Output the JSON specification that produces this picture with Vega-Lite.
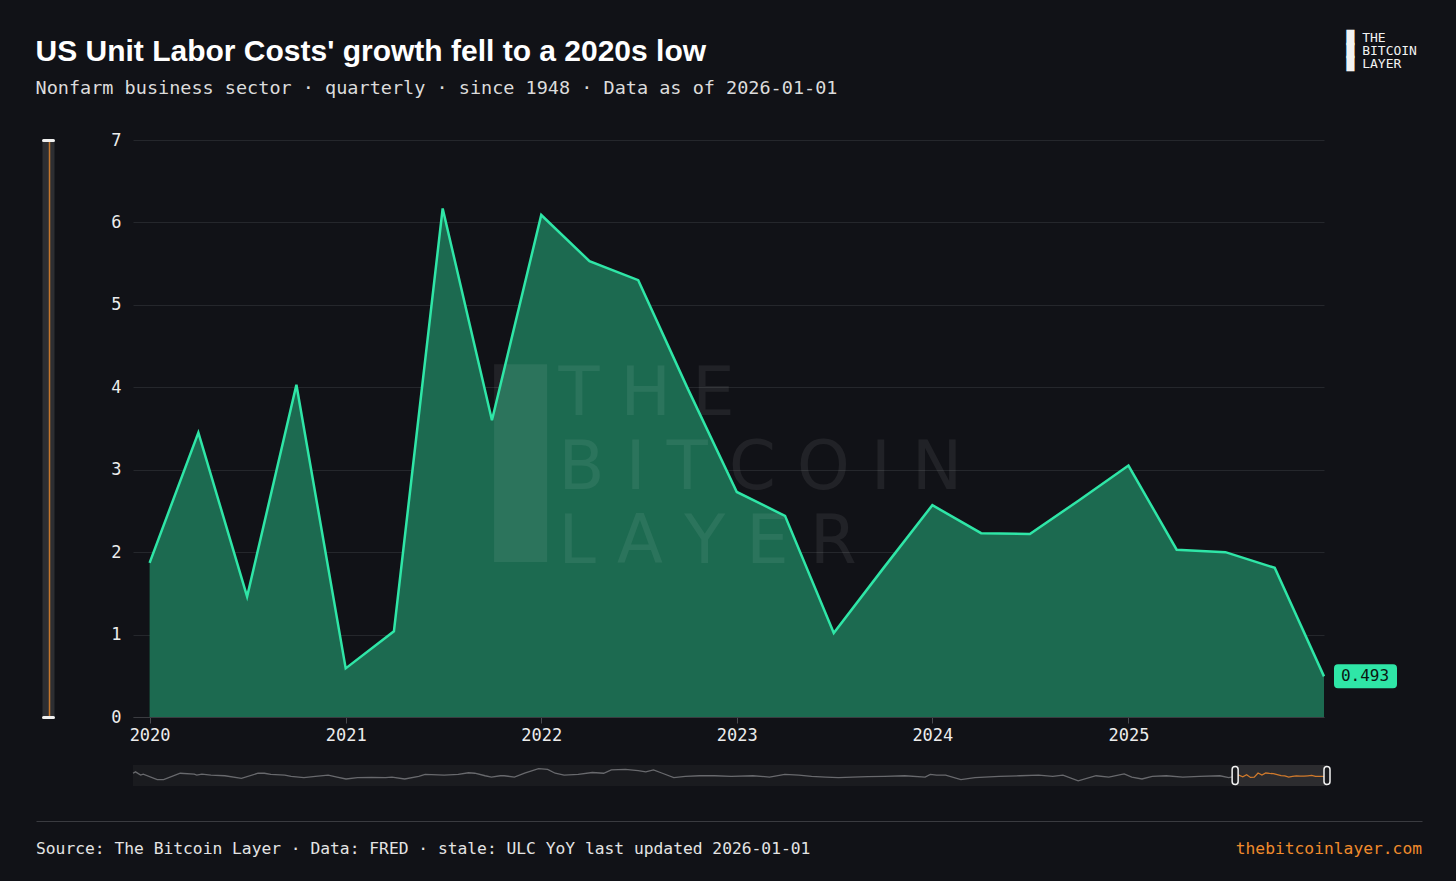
{
  "$schema": "https://vega.github.io/schema/vega-lite/v6.json",
  "background": "#111217",
  "padding": {"left": 35, "right": 35, "top": 31, "bottom": 4},
  "config": {"view": {"stroke": null}, "font": "DejaVu Sans Mono"},
  "title": {
    "text": ["█ THE", "█ BITCOIN", "█ LAYER"],
    "anchor": "start", "frame": "bounds", "align": "left", "dx": 1311, "offset": -34,
    "font": "DejaVu Sans Mono", "fontSize": 13, "fontWeight": "normal", "lineHeight": 13, "color": "#f2f2f2"
  },
  "datasets": {
    "ulc": [
      {"date": "1948-01-01", "value": 5.8}, {"date": "1948-03-01", "value": 7.5}, {"date": "1948-07-01", "value": 3.5},
      {"date": "1948-09-01", "value": 4.7}, {"date": "1949-08-01", "value": -2.0}, {"date": "1950-01-01", "value": -2.0},
      {"date": "1951-02-01", "value": 5.8}, {"date": "1952-01-01", "value": 4.7}, {"date": "1952-03-01", "value": 3.5},
      {"date": "1952-07-01", "value": 4.7}, {"date": "1953-02-01", "value": 3.5}, {"date": "1954-01-01", "value": 2.7},
      {"date": "1955-02-01", "value": -0.5}, {"date": "1956-03-01", "value": 5.8}, {"date": "1956-08-01", "value": 5.8},
      {"date": "1957-01-01", "value": 4.3}, {"date": "1957-12-01", "value": 3.5}, {"date": "1958-05-01", "value": 1.9},
      {"date": "1959-03-01", "value": 0.3}, {"date": "1959-12-01", "value": 1.9}, {"date": "1960-10-01", "value": 3.5},
      {"date": "1961-05-01", "value": 1.1}, {"date": "1961-12-01", "value": -1.3}, {"date": "1962-09-01", "value": 0.3},
      {"date": "1963-08-01", "value": 0.7}, {"date": "1964-07-01", "value": 0.3}, {"date": "1964-12-01", "value": 1.1},
      {"date": "1965-10-01", "value": -1.3}, {"date": "1966-09-01", "value": 1.9}, {"date": "1967-02-01", "value": 4.3},
      {"date": "1968-05-01", "value": 3.5}, {"date": "1969-04-01", "value": 4.3}, {"date": "1969-12-01", "value": 6.4},
      {"date": "1970-05-01", "value": 5.8}, {"date": "1971-01-01", "value": 2.7}, {"date": "1971-06-01", "value": 1.1},
      {"date": "1972-01-01", "value": 2.7}, {"date": "1972-04-01", "value": 2.7}, {"date": "1972-12-01", "value": 1.1},
      {"date": "1973-08-01", "value": 5.8}, {"date": "1974-07-01", "value": 11.4}, {"date": "1975-02-01", "value": 10.6},
      {"date": "1975-08-01", "value": 5.8}, {"date": "1976-03-01", "value": 3.5}, {"date": "1977-02-01", "value": 4.3},
      {"date": "1978-01-01", "value": 6.7}, {"date": "1978-10-01", "value": 5.8}, {"date": "1979-04-01", "value": 9.9},
      {"date": "1980-03-01", "value": 10.6}, {"date": "1981-01-01", "value": 9.0}, {"date": "1981-07-01", "value": 7.5},
      {"date": "1982-01-01", "value": 9.9}, {"date": "1982-08-01", "value": 5.8}, {"date": "1983-05-01", "value": 0.3},
      {"date": "1984-02-01", "value": 1.9}, {"date": "1985-01-01", "value": 2.7}, {"date": "1986-01-01", "value": 2.7},
      {"date": "1987-02-01", "value": 1.9}, {"date": "1988-07-01", "value": 2.7}, {"date": "1989-08-01", "value": 1.1},
      {"date": "1990-08-01", "value": 4.3}, {"date": "1991-07-01", "value": 3.5}, {"date": "1992-05-01", "value": 1.9},
      {"date": "1993-04-01", "value": 1.1}, {"date": "1994-02-01", "value": 0.3}, {"date": "1995-01-01", "value": 1.1},
      {"date": "1996-01-01", "value": 1.5}, {"date": "1997-02-01", "value": 1.9}, {"date": "1998-06-01", "value": 2.7},
      {"date": "1999-10-01", "value": 1.1}, {"date": "2000-02-01", "value": 4.3}, {"date": "2000-07-01", "value": 3.5},
      {"date": "2001-02-01", "value": 3.5}, {"date": "2002-02-01", "value": -2.0}, {"date": "2003-01-01", "value": 0.3},
      {"date": "2004-08-01", "value": 1.9}, {"date": "2005-12-01", "value": 2.7}, {"date": "2007-03-01", "value": 3.5},
      {"date": "2008-02-01", "value": 1.9}, {"date": "2008-10-01", "value": 3.5}, {"date": "2009-10-01", "value": -3.6},
      {"date": "2010-12-01", "value": 2.7}, {"date": "2011-10-01", "value": 1.1}, {"date": "2012-10-01", "value": 5.0},
      {"date": "2013-04-01", "value": 1.1}, {"date": "2013-12-01", "value": -1.3}, {"date": "2014-08-01", "value": 1.9},
      {"date": "2015-07-01", "value": 2.7}, {"date": "2016-08-01", "value": 1.1}, {"date": "2017-09-01", "value": 1.9},
      {"date": "2019-01-01", "value": 2.7}, {"date": "2019-08-01", "value": 0.3},
      {"date": "2020-01-01", "value": 1.87}, {"date": "2020-04-01", "value": 3.45}, {"date": "2020-07-01", "value": 1.46},
      {"date": "2020-10-01", "value": 4.03}, {"date": "2021-01-01", "value": 0.59}, {"date": "2021-04-01", "value": 1.04},
      {"date": "2021-07-01", "value": 6.17}, {"date": "2021-10-01", "value": 3.60}, {"date": "2022-01-01", "value": 6.09},
      {"date": "2022-04-01", "value": 5.53}, {"date": "2022-07-01", "value": 5.30}, {"date": "2022-10-01", "value": 3.99},
      {"date": "2023-01-01", "value": 2.73}, {"date": "2023-04-01", "value": 2.44}, {"date": "2023-07-01", "value": 1.02},
      {"date": "2023-10-01", "value": 1.80}, {"date": "2024-01-01", "value": 2.57}, {"date": "2024-04-01", "value": 2.23},
      {"date": "2024-07-01", "value": 2.22}, {"date": "2024-10-01", "value": 2.63}, {"date": "2025-01-01", "value": 3.05},
      {"date": "2025-04-01", "value": 2.03}, {"date": "2025-07-01", "value": 2.00}, {"date": "2025-10-01", "value": 1.81},
      {"date": "2026-01-01", "value": 0.493}
    ]
  },
  "data": {"name": "ulc"},
  "spacing": 35,
  "vconcat": [
    {
      "bounds": "flush",
      "spacing": 48,
      "vconcat": [
        {
          "width": 1191,
          "height": 577,
          "title": {
            "text": "US Unit Labor Costs' growth fell to a 2020s low",
            "subtitle": "Nonfarm business sector · quarterly · since 1948 · Data as of 2026-01-01",
            "anchor": "start", "frame": "bounds", "offset": 34, "dx": -6,
            "font": "Liberation Sans", "fontSize": 30, "fontWeight": "bold", "color": "#ffffff",
            "subtitleFont": "DejaVu Sans Mono", "subtitleFontSize": 18.5, "subtitleColor": "#dcdcdc", "subtitlePadding": 12
          },
          "encoding": {
            "x": {
              "field": "date", "type": "temporal",
              "scale": {"domain": [{"year": 2019, "month": 12, "date": 1}, {"year": 2026, "month": 1, "date": 1}]},
              "axis": {
                "values": [{"year": 2020, "month": 1, "date": 1}, {"year": 2021, "month": 1, "date": 1}, {"year": 2022, "month": 1, "date": 1},
                           {"year": 2023, "month": 1, "date": 1}, {"year": 2024, "month": 1, "date": 1}, {"year": 2025, "month": 1, "date": 1}],
                "format": "%Y", "labelFont": "DejaVu Sans Mono", "labelFontSize": 17, "labelColor": "#ececec", "labelPadding": 4,
                "tickColor": "#4a4b50", "tickSize": 6, "domainColor": "#3b3c41", "grid": false, "title": null
              }
            }
          },
          "resolve": {"axis": {"y": "independent"}},
          "layer": [
            {
              "transform": [{"filter": {"field": "date", "gte": {"year": 2019, "month": 12, "date": 15}}}],
              "mark": {"type": "area", "color": "#1c6a50", "opacity": 1},
              "encoding": {
                "y": {"field": "value", "type": "quantitative", "scale": {"domain": [0, 7]},
                  "axis": {"orient": "left", "values": [0, 1, 2, 3, 4, 5, 6, 7], "labelFont": "DejaVu Sans Mono", "labelFontSize": 17, "labelColor": "#ececec",
                    "labelPadding": 12, "ticks": false, "domain": false, "grid": true, "gridColor": "#25272c", "gridWidth": 1, "title": null}}
              }
            },
            {
              "transform": [{"filter": {"field": "date", "gte": {"year": 2025, "month": 12, "date": 15}}}],
              "mark": {"type": "rect", "color": "#ffffff", "opacity": 0.07},
              "encoding": {
                "x": {"datum": {"year": 2021, "month": 10, "date": 5}, "type": "temporal"},
                "x2": {"datum": {"year": 2022, "month": 1, "date": 12}},
                "y": {"datum": 1.88, "type": "quantitative", "axis": null},
                "y2": {"datum": 4.28}
              }
            },
            {
              "transform": [{"filter": {"field": "date", "gte": {"year": 2025, "month": 12, "date": 15}}}],
              "mark": {"type": "text", "text": "T H E\nB I T C O I N\nL A Y E R", "align": "left", "baseline": "alphabetic", "lineBreak": "\n", "lineHeight": 74,
                "font": "DejaVu Sans", "fontSize": 67, "color": "#ffffff", "opacity": 0.065},
              "encoding": {
                "x": {"datum": {"year": 2022, "month": 2, "date": 2}, "type": "temporal"},
                "y": {"datum": 3.66, "type": "quantitative", "axis": null}
              }
            },
            {
              "transform": [{"filter": {"field": "date", "gte": {"year": 2019, "month": 12, "date": 15}}}],
              "mark": {"type": "line", "color": "#2fe6a7", "strokeWidth": 2.5},
              "encoding": {
                "y": {"field": "value", "type": "quantitative",
                  "axis": {"orient": "left", "offset": 85, "domain": true, "domainColor": "#2d2e32", "domainWidth": 12, "labels": false, "ticks": false, "grid": false, "title": null}}
              }
            },
            {
              "transform": [{"filter": {"field": "date", "gte": {"year": 2025, "month": 12, "date": 15}}}],
              "mark": {"type": "point", "shape": "M0.2,-0.24H1.38Q1.46,-0.24 1.46,-0.16V0.16Q1.46,0.24 1.38,0.24H0.28Q0.2,0.24 0.2,0.16V-0.16Q0.2,-0.24 0.28,-0.24Z",
                "size": 10000, "filled": true, "color": "#2fe6a7", "opacity": 1},
              "encoding": {
                "y": {"field": "value", "type": "quantitative",
                  "axis": {"orient": "left", "offset": 84, "domain": true, "domainColor": "#c7772c", "domainWidth": 1.5, "labels": false, "ticks": false, "grid": false, "title": null}}
              }
            },
            {
              "transform": [{"filter": {"field": "date", "gte": {"year": 2025, "month": 12, "date": 15}}}],
              "mark": {"type": "text", "dx": 41, "align": "center", "baseline": "middle", "font": "DejaVu Sans Mono", "fontSize": 16, "color": "#0b1712"},
              "encoding": {
                "y": {"field": "value", "type": "quantitative",
                  "axis": {"orient": "left", "offset": 80, "domain": false, "labels": false, "ticks": true, "values": [0, 7], "tickColor": "#f0f0f0",
                    "tickWidth": 3, "tickSize": 10, "tickCap": "round", "grid": false, "title": null}},
                "text": {"field": "value", "type": "quantitative", "format": ".3f"}
              }
            }
          ]
        },
        {
          "width": 1194,
          "height": 21,
          "view": {"fill": "#1a1b1f", "stroke": null},
          "layer": [
            {
              "transform": [{"filter": {"field": "date", "gte": {"year": 2025, "month": 12, "date": 15}}}],
              "mark": {"type": "rect", "color": "#2c2c2f", "opacity": 1},
              "encoding": {
                "x": {"datum": {"year": 2020, "month": 1, "date": 1}, "type": "temporal",
                  "scale": {"domain": [{"year": 1948, "month": 1, "date": 1}, {"year": 2026, "month": 1, "date": 1}]}, "axis": null},
                "x2": {"datum": {"year": 2026, "month": 1, "date": 1}}
              }
            },
            {
              "transform": [{"filter": {"field": "date", "lte": {"year": 2020, "month": 1, "date": 15}}}],
              "mark": {"type": "line", "color": "#68696d", "strokeWidth": 1.3},
              "encoding": {
                "x": {"field": "date", "type": "temporal", "axis": null},
                "y": {"field": "value", "type": "quantitative", "scale": {"domain": [-10, 15]}, "axis": null}
              }
            },
            {
              "transform": [{"filter": {"field": "date", "gte": {"year": 2019, "month": 12, "date": 15}}}],
              "mark": {"type": "line", "color": "#d07a2c", "strokeWidth": 1.3},
              "encoding": {
                "x": {"field": "date", "type": "temporal", "axis": null},
                "y": {"field": "value", "type": "quantitative", "axis": null}
              }
            },
            {
              "transform": [{"filter": {"or": [
                {"field": "date", "range": [{"year": 2019, "month": 12, "date": 15}, {"year": 2020, "month": 1, "date": 15}]},
                {"field": "date", "gte": {"year": 2025, "month": 12, "date": 15}}
              ]}}],
              "mark": {"type": "tick", "orient": "vertical", "thickness": 6, "size": 18, "color": "#1a1b1f", "stroke": "#f2f2f2",
                "strokeWidth": 1.5, "cornerRadius": 3, "opacity": 1},
              "encoding": {"x": {"field": "date", "type": "temporal", "axis": null}}
            }
          ]
        }
      ]
    },
    {
      "width": 1191,
      "height": 56,
      "data": {"values": [{"source": "Source: The Bitcoin Layer · Data: FRED · stale: ULC YoY last updated 2026-01-01", "site": "thebitcoinlayer.com"}]},
      "layer": [
        {
          "mark": {"type": "text", "align": "left", "baseline": "middle", "font": "DejaVu Sans Mono", "fontSize": 16.3, "color": "#e4e4e4"},
          "encoding": {
            "x": {"datum": 0, "type": "quantitative", "scale": {"domain": [0, 1], "range": [-97, 1289]},
              "axis": {"orient": "top", "domainColor": "#3a3b40", "domainWidth": 1, "labels": false, "ticks": false, "grid": false, "title": null}},
            "text": {"field": "source"}
          }
        },
        {
          "mark": {"type": "text", "align": "right", "baseline": "middle", "font": "DejaVu Sans Mono", "fontSize": 16.3, "color": "#f08b2c"},
          "encoding": {
            "x": {"datum": 1, "type": "quantitative",
              "axis": {"orient": "top", "domainColor": "#3a3b40", "domainWidth": 1, "labels": false, "ticks": false, "grid": false, "title": null}},
            "text": {"field": "site"}
          }
        }
      ]
    }
  ]
}
